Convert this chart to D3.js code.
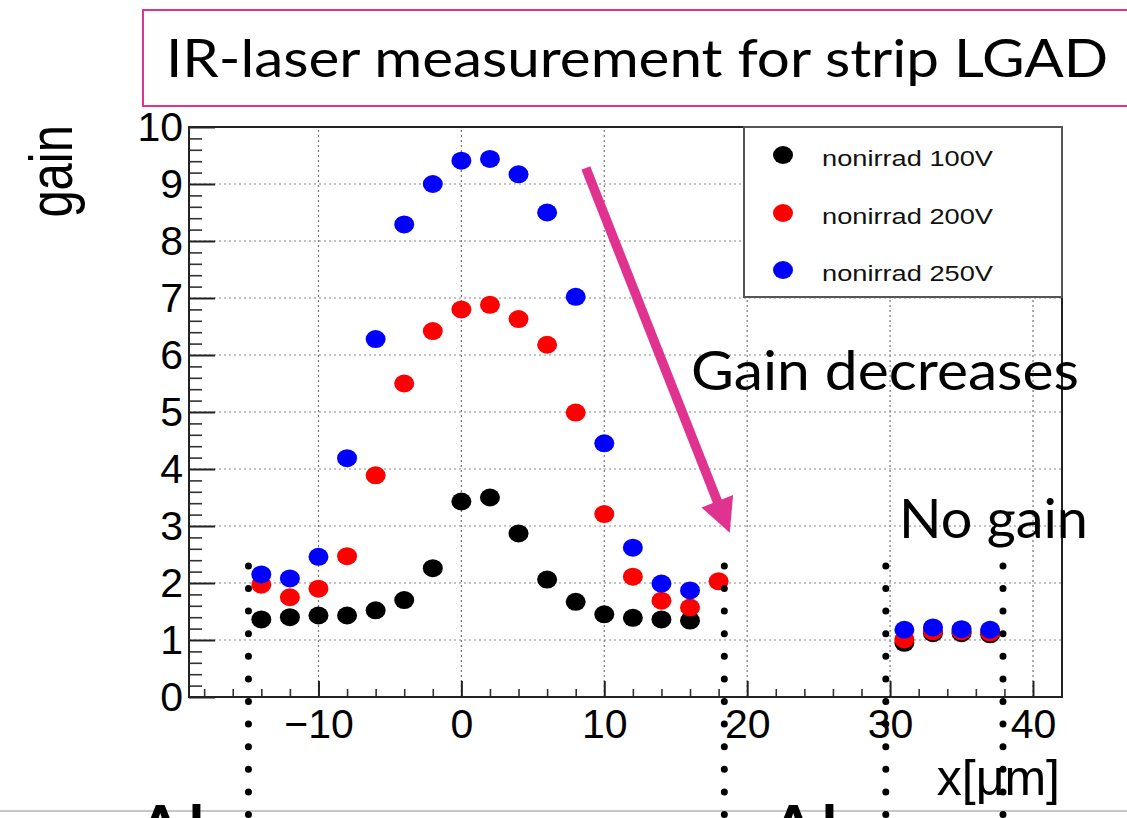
<!DOCTYPE html>
<html><head><meta charset="utf-8">
<script src="https://cdn.jsdelivr.net/npm/d3@7"></script>
<style>html,body{margin:0;padding:0;background:#fff;} svg{display:block;}</style>
</head><body>
<svg id="chart" width="1127" height="818"></svg>
<script>
// ---------- data ----------
const seriesNames = ["nonirrad 100V", "nonirrad 200V", "nonirrad 250V"];
const seriesColors = ["#000000", "#ff0000", "#0000ff"];

const xBlack = [-14,-12,-10,-8,-6,-4,-2,0,2,4,6,8,10,12,14,16,31,33,35,37];
const gainBlack = [1.36,1.40,1.43,1.43,1.52,1.70,2.26,3.43,3.50,2.87,2.06,1.67,1.45,1.39,1.36,1.34,0.95,1.12,1.12,1.10];

const xRed = [-14,-12,-10,-8,-6,-4,-2,0,2,4,6,8,10,12,14,16,18,31,33,35,37];
const gainRed = [1.97,1.75,1.90,2.47,3.89,5.50,6.42,6.80,6.88,6.63,6.18,4.99,3.21,2.11,1.69,1.57,2.03,1.01,1.15,1.15,1.13];

const xBlue = [-14,-12,-10,-8,-6,-4,-2,0,2,4,6,8,10,12,14,16,31,33,35,37];
const gainBlue = [2.15,2.08,2.46,4.19,6.28,8.29,9.00,9.41,9.44,9.17,8.50,7.02,4.45,2.62,1.99,1.87,1.18,1.22,1.19,1.18];

const xTicks = [-10,0,10,20,30,40];
const xTickLabels = ["\u221210","0","10","20","30","40"];
const yTicks = [0,1,2,3,4,5,6,7,8,9,10];
const yTickLabels = ["0","1","2","3","4","5","6","7","8","9","10"];

// annotation (Al boundaries, arrow) in data units
const alBoundaries = [-14.9, 18.4, 29.7, 37.9];
const arrowFrom = [8.71, 9.28];
const arrowTo = [18.78, 2.88];

const titleText = "IR-laser measurement for strip LGAD";
const xTitle = "x[\u03bcm]";
const yTitle = "gain";

// ---------- drawing ----------
const svg = d3.select("#chart");
const x = d3.scaleLinear().domain([-19.06, 42.03]).range([189, 1062]);
const y = d3.scaleLinear().domain([0, 10]).range([697, 127]);
const rootFont = "'Liberation Sans', Arial, sans-serif";
const slideFont = "Lato, 'Open Sans', sans-serif";
const pink = "#e0338f";

svg.append("rect").attr("width",1127).attr("height",818).attr("fill","#fff");

// title box
svg.append("rect").attr("x",143).attr("y",10).attr("width",1000).attr("height",96)
  .attr("fill","none").attr("stroke",pink).attr("stroke-width",2);
svg.append("text").attr("x",166).attr("y",77).attr("font-family",slideFont).attr("font-size",52)
  .attr("textLength",942).attr("lengthAdjust","spacingAndGlyphs").attr("fill","#000").text(titleText);

// grid
const grid = svg.append("g");
grid.selectAll(".vg").data(xTicks).join("line")
  .attr("x1",d=>x(d)).attr("x2",d=>x(d)).attr("y1",y(0)).attr("y2",y(10))
  .attr("stroke","#777").attr("stroke-width",1.2).attr("stroke-dasharray","2,3");
grid.selectAll(".hg").data(yTicks.slice(1,-1)).join("line")
  .attr("x1",x.range()[0]).attr("x2",x.range()[1]).attr("y1",d=>y(d)).attr("y2",d=>y(d))
  .attr("stroke","#888").attr("stroke-width",1.2).attr("stroke-dasharray","2,3");

// axes
const yMinor = d3.range(0, 10.001, 0.2).filter(v => Math.abs(v - Math.round(v)) > 1e-6);
const xMinor = d3.range(-18, 42, 2).filter(v => v % 10 !== 0);

svg.append("g").attr("transform",`translate(${x.range()[0]},0)`)
  .call(d3.axisLeft(y).tickValues(yMinor).tickSize(-13).tickFormat(""))
  .call(g=>g.select(".domain").remove())
  .call(g=>g.selectAll("line").attr("stroke","#333").attr("stroke-width",1.6));
svg.append("g").attr("transform",`translate(${x.range()[0]},0)`)
  .call(d3.axisLeft(y).tickValues(yTicks).tickSize(-26).tickPadding(6).tickFormat((d,i)=>yTickLabels[i]))
  .call(g=>g.select(".domain").remove())
  .call(g=>g.selectAll("line").attr("stroke","#222").attr("stroke-width",2))
  .call(g=>g.selectAll("text").attr("font-family",rootFont).attr("font-size",41).attr("fill","#000"));

svg.append("g").attr("transform",`translate(0,${y(0)})`)
  .call(d3.axisBottom(x).tickValues(xMinor).tickSize(-8).tickFormat(""))
  .call(g=>g.select(".domain").remove())
  .call(g=>g.selectAll("line").attr("stroke","#333").attr("stroke-width",1.6));
svg.append("g").attr("transform",`translate(0,${y(0)})`)
  .call(d3.axisBottom(x).tickValues(xTicks).tickSize(-16).tickPadding(12).tickFormat((d,i)=>xTickLabels[i]))
  .call(g=>g.select(".domain").remove())
  .call(g=>g.selectAll("line").attr("stroke","#222").attr("stroke-width",2))
  .call(g=>g.selectAll("text").attr("font-family",rootFont).attr("font-size",41).attr("fill","#000"));

// frame
svg.append("rect").attr("x",x.range()[0]).attr("y",y(10))
  .attr("width",x.range()[1]-x.range()[0]).attr("height",y(0)-y(10))
  .attr("fill","none").attr("stroke","#222").attr("stroke-width",2);

// axis titles
svg.append("text").attr("text-anchor","end").attr("font-family",rootFont).attr("font-size",49)
  .attr("transform","translate(72,125) scale(1.25,1) rotate(-90)").attr("fill","#000").text(yTitle);
svg.append("text").attr("text-anchor","end").attr("x",1060).attr("y",795)
  .attr("font-family",rootFont).attr("font-size",50).attr("fill","#000").text(xTitle);

// legend
const lg = svg.append("g");
lg.append("rect").attr("x",744).attr("y",127).attr("width",318).attr("height",170)
  .attr("fill","#fff").attr("stroke","#555").attr("stroke-width",2);
const legendY = [155, 213, 270];
seriesNames.forEach((n,i)=>{
  lg.append("ellipse").attr("cx",783).attr("cy",legendY[i]).attr("rx",10).attr("ry",9).attr("fill",seriesColors[i]);
  lg.append("text").attr("x",822).attr("y",legendY[i]+10.5).attr("font-family",rootFont)
    .attr("font-size",22).attr("textLength",171).attr("lengthAdjust","spacingAndGlyphs")
    .attr("fill","#111").text(n);
});

// data points
const series = [[xBlack,gainBlack],[xRed,gainRed],[xBlue,gainBlue]];
series.forEach(([xs,gs],i)=>{
  svg.append("g").selectAll("ellipse").data(xs.map((v,k)=>[v,gs[k]])).join("ellipse")
    .attr("cx",d=>x(d[0])).attr("cy",d=>y(d[1])).attr("rx",10).attr("ry",9)
    .attr("fill",seriesColors[i]);
});

// slide annotations
svg.append("line").attr("x1",0).attr("x2",1127).attr("y1",811).attr("y2",811)
  .attr("stroke","#c8c8c8").attr("stroke-width",2);
svg.append("g").selectAll("line").data(alBoundaries).join("line")
  .attr("x1",d=>x(d)).attr("x2",d=>x(d)).attr("y1",y(2.3)).attr("y2",830)
  .attr("stroke","#000").attr("stroke-width",7).attr("stroke-linecap","round")
  .attr("stroke-dasharray","0 22.6");

svg.append("text").attr("x",138).attr("y",851).attr("font-family",slideFont).attr("font-weight",700)
  .attr("font-size",64).attr("letter-spacing",6).attr("fill","#000").text("Al");
svg.append("text").attr("x",771).attr("y",851).attr("font-family",slideFont).attr("font-weight",700)
  .attr("font-size",64).attr("letter-spacing",6).attr("fill","#000").text("Al");

svg.append("text").attr("x",691).attr("y",390).attr("font-family",slideFont).attr("font-size",54)
  .attr("textLength",388).attr("lengthAdjust","spacingAndGlyphs").attr("fill","#000").text("Gain decreases");
svg.append("text").attr("x",899).attr("y",538).attr("font-family",slideFont).attr("font-size",54)
  .attr("textLength",189).attr("lengthAdjust","spacingAndGlyphs").attr("fill","#000").text("No gain");

// arrow
const p0 = [x(arrowFrom[0]), y(arrowFrom[1])];
const p1 = [x(arrowTo[0]), y(arrowTo[1])];
const dx = p1[0]-p0[0], dy = p1[1]-p0[1], L = Math.hypot(dx,dy);
const ux = dx/L, uy = dy/L, headL = 34, headW = 17;
const base = [p1[0]-ux*headL, p1[1]-uy*headL];
svg.append("line").attr("x1",p0[0]).attr("y1",p0[1]).attr("x2",base[0]+ux*2).attr("y2",base[1]+uy*2)
  .attr("stroke",pink).attr("stroke-width",9.5);
svg.append("path").attr("d",`M${p1[0]},${p1[1]}L${base[0]-uy*headW},${base[1]+ux*headW}L${base[0]+uy*headW},${base[1]-ux*headW}Z`)
  .attr("fill",pink);
</script>
</body></html>
